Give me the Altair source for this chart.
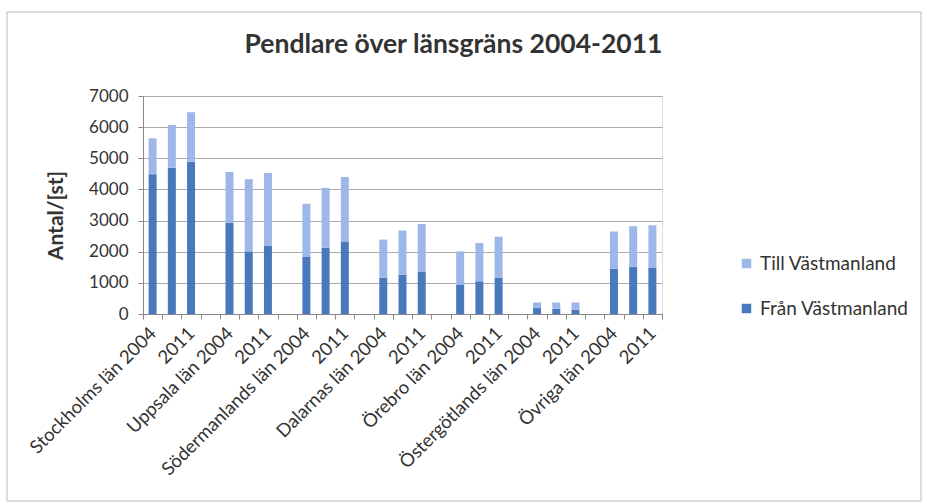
import json
import altair as alt
import pandas as pd

regions = ["Stockholms län", "Uppsala län", "Södermanlands län", "Dalarnas län",
           "Örebro län", "Östergötlands län", "Övriga län"]
years = ["2004", "2008", "2011"]
fran = [[4490, 4700, 4890], [2920, 2010, 2200], [1830, 2130, 2330], [1160, 1260, 1350],
        [950, 1050, 1170], [190, 170, 140], [1450, 1520, 1490]]
till = [[1150, 1370, 1590], [1640, 2320, 2330], [1710, 1920, 2070], [1230, 1420, 1540],
        [1060, 1230, 1310], [180, 200, 230], [1200, 1300, 1360]]
series = ["Till Västmanland", "Från Västmanland"]
colors = ["#9db8e8", "#4a78bd"]
y_ticks = [0, 1000, 2000, 3000, 4000, 5000, 6000, 7000]

n_slots = len(regions) * 4 - 1
labels = [""] * n_slots
rows = []
for i, reg in enumerate(regions):
    for j, yr in enumerate(years):
        slot = i * 4 + j
        if j == 0:
            labels[slot] = f"{reg} {yr}"
        elif j == 2:
            labels[slot] = yr
        rows.append({"slot": slot, "serie": "Från Västmanland", "ord": 0, "value": fran[i][j]})
        rows.append({"slot": slot, "serie": "Till Västmanland", "ord": 1, "value": till[i][j]})
df = pd.DataFrame(rows)

FONT = "Lato"
TXT = "#333333"

bars = alt.Chart(df).mark_bar(size=8).encode(
    x=alt.X("slot:O", title=None,
            scale=alt.Scale(domain=list(range(n_slots)), paddingInner=0, paddingOuter=0),
            axis=alt.Axis(labelExpr=json.dumps(labels, ensure_ascii=False) + "[datum.value]",
                          labelAngle=-45, labelAlign="right", labelBaseline="middle",
                          labelOverlap=False, labelFontSize=18.5, labelFont=FONT,
                          labelLimit=400,
                          labelColor=TXT, labelPadding=11, tickBand="extent",
                          tickSize=5, tickColor="#888", domainColor="#888", grid=False)),
    y=alt.Y("value:Q", stack="zero",
            scale=alt.Scale(domain=[0, 7000], nice=False),
            axis=alt.Axis(values=y_ticks, format="d", title="Antal/[st]", titleFont=FONT,
                          titleFontSize=21, titleFontWeight="bold", titleColor=TXT,
                          titleX=-77, titleY=119, titleAngle=-90,
                          labelFont=FONT, labelFontSize=17, labelColor=TXT,
                          labelPadding=10, tickSize=5, tickColor="#888",
                          domainColor="#888", gridColor="#aaaaaa")),
    color=alt.Color("serie:N", scale=alt.Scale(domain=series, range=colors),
                    legend=alt.Legend(title=None, orient="none", legendX=594, legendY=158,
                                      symbolType="square", symbolSize=90,
                                      symbolStrokeWidth=0, labelFont=FONT,
                                      labelFontSize=19, labelColor=TXT, rowPadding=25,
                                      labelOffset=4)),
    order=alt.Order("ord:Q"),
)

frame = alt.Chart(pd.DataFrame({"a": [0]})).mark_rect(
    fillOpacity=0, stroke="#bbbbbb", strokeWidth=1
).encode(x=alt.value(-136), x2=alt.value(778), y=alt.value(-84), y2=alt.value(405))

chart = alt.layer(bars, frame).properties(
    width=519, height=218,
    padding={"left": 143, "top": 96, "right": 265, "bottom": 190},
    autosize=alt.AutoSizeParams(type="none"),
    title=alt.TitleParams("Pendlare över länsgräns 2004-2011", font=FONT, fontSize=26.5,
                          fontWeight="bold", color=TXT, anchor="middle", frame="group",
                          dx=51, offset=-47),
).configure_view(strokeWidth=0).configure(background="white")

chart.save("out.html", embed_options={"renderer": "svg", "actions": False})
